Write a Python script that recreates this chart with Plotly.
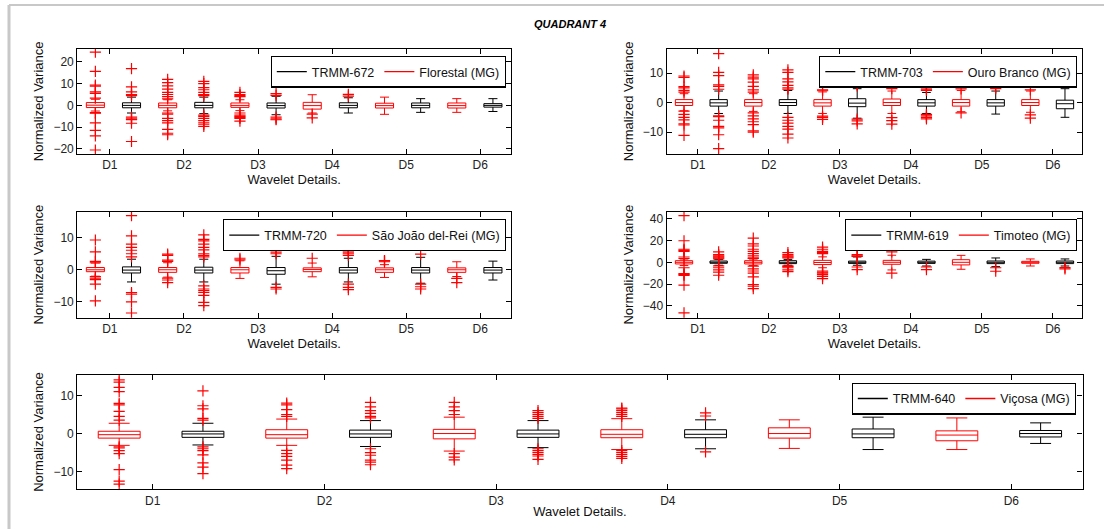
import plotly.graph_objects as go

details = ["D1", "D2", "D3", "D4", "D5", "D6"]

# Each stats row: [lower whisker, Q1, median, Q3, upper whisker] for D1..D6
# ---- Panel 1: TRMM-672 / Florestal (MG)
florestal_stats = [[-2.6, -1.0, 0.1, 1.3, 2.8], [-2.5, -1.1, 0.0, 1.1, 2.6], [-2.4, -0.9, 0.0, 1.1, 2.6],
                   [-3.5, -1.7, -0.1, 1.4, 4.9], [-4.1, -1.2, -0.1, 1.0, 3.8], [-3.2, -1.2, -0.1, 1.1, 3.1]]
florestal_out = [[24.5, 15.6, 9.3, 8.8, 6.2, 5.5, 3.3, -3.3, -3.6, -8.0, -11.5, -14.0, -20.5],
                 [12.0, 10.5, 9.0, 7.5, 6.0, 5.0, 4.0, 3.0, -3.5, -4.0, -6.0, -7.0, -8.0, -11.0, -12.8, -13.5],
                 [6.0, 5.0, 4.5, 4.0, -3.5, -4.5, -5.0, -5.5, -6.0, -7.2],
                 [-4.0, -5.7], [], []]
trmm672_stats = [[-3.5, -1.1, 0.0, 1.2, 3.8], [-3.8, -1.1, 0.0, 1.4, 3.8], [-4.3, -1.2, -0.1, 1.1, 4.2],
                 [-3.5, -1.1, 0.0, 1.2, 3.5], [-3.2, -1.1, 0.0, 1.1, 3.1], [-2.8, -0.8, 0.0, 0.8, 3.1]]
trmm672_out = [[16.9, 8.5, 6.2, 5.0, 4.5, -5.4, -6.2, -6.5, -8.2, -16.6],
               [11.0, 10.0, 8.2, 7.2, 6.0, 5.0, 4.5, -4.5, -5.0, -6.0, -7.0, -8.0, -8.9, -9.7],
               [5.4, 4.6, -5.4, -6.2, -6.6], [4.3, 5.1], [], []]

# ---- Panel 2: TRMM-703 / Ouro Branco (MG)
ouro_stats = [[-2.8, -1.0, 0.0, 1.0, 3.0], [-3.0, -1.2, 0.0, 1.0, 3.0], [-3.7, -1.2, -0.1, 1.0, 3.6],
              [-3.7, -1.0, 0.0, 1.2, 3.9], [-3.1, -1.2, 0.0, 1.0, 4.1], [-3.3, -1.0, 0.0, 1.0, 3.9]]
ouro_out = [[9.0, 8.5, 5.4, 5.0, 4.1, 3.5, -2.9, -4.0, -5.0, -5.9, -7.2, -7.6, -11.1],
            [9.4, 8.6, 8.0, 6.9, 5.5, 4.3, 3.5, -3.5, -4.5, -5.5, -6.5, -7.5, -9.6, -10.0],
            [4.3, 4.0, -4.6, -5.0, -5.7],
            [4.7, -5.1, -6.1, -7.3],
            [4.6, -3.5],
            [4.3, -4.2, -5.3]]
trmm703_stats = [[-3.7, -1.2, -0.1, 1.0, 3.9], [-3.7, -1.0, 0.0, 1.0, 4.1], [-5.3, -1.4, -0.2, 1.3, 4.7],
                 [-3.7, -1.2, -0.1, 1.0, 3.4], [-3.9, -1.2, -0.1, 1.0, 3.9], [-5.0, -2.1, -0.4, 0.8, 4.7]]
trmm703_out = [[16.6, 10.2, 9.1, 6.0, 5.5, 4.5, -4.5, -4.8, -6.0, -8.1, -8.6, -10.9, -15.6],
               [11.1, 10.2, 8.0, 7.0, 5.8, 5.0, 4.5, -5.0, -6.0, -7.0, -8.1, -9.0, -10.7, -12.0],
               [7.2, 6.3, 5.6, -5.6, -6.2, -7.2],
               [4.1, 4.5, 5.0, 5.4, -4.0, -4.5, -5.0, -5.5],
               [4.7, 5.2], []]

# ---- Panel 3: TRMM-720 / São João del-Rei (MG)
sjdr_stats = [[-2.0, -0.6, 0.0, 0.7, 2.1], [-2.3, -0.8, 0.0, 0.7, 2.2], [-2.7, -1.0, 0.0, 0.7, 2.8],
              [-2.2, -0.6, 0.1, 0.6, 2.1], [-2.4, -0.8, 0.0, 0.6, 1.6], [-2.1, -0.8, 0.0, 0.6, 2.5]]
sjdr_out = [[9.3, 5.6, 2.6, 2.2, -2.1, -2.6, -3.1, -4.5, -9.7],
            [4.9, 4.5, 3.0, 2.6, -2.6, -3.2, -4.0],
            [3.6, 3.1], [3.6],
            [2.8, 2.5, 2.9],
            [-2.7, -4.0]]
trmm720_stats = [[-3.8, -1.0, -0.1, 0.9, 3.3], [-3.8, -1.0, -0.1, 0.8, 3.3], [-4.5, -1.4, -0.3, 0.7, 4.2],
                 [-3.8, -1.0, -0.1, 0.7, 3.6], [-4.2, -1.0, -0.1, 0.7, 3.9], [-3.2, -1.0, -0.1, 0.7, 2.7]]
trmm720_out = [[16.9, 10.6, 8.0, 7.0, 6.1, 5.0, 4.0, -7.1, -7.6, -10.0, -13.5],
               [10.9, 9.5, 9.0, 8.0, 7.0, 6.2, 5.0, 4.5, 4.0, -5.0, -6.0, -6.5, -7.1, -8.0, -10.2, -11.2],
               [6.1, 5.5, 5.0, -5.5, -6.0],
               [6.5, 6.0, 5.5, 5.0, 4.5, -4.5, -5.5, -6.2],
               [4.9, -4.5, -5.3, -6.0], []]

# ---- Panel 4: TRMM-619 / Timoteo (MG)
timoteo_stats = [[-3.0, -1.5, 0.0, 1.5, 3.0], [-3.0, -1.5, 0.0, 1.5, 3.0], [-5.0, -2.1, -0.2, 1.8, 5.0],
                 [-7.0, -1.8, 0.0, 1.8, 6.5], [-6.4, -2.4, 0.0, 2.4, 6.4], [-3.4, -0.9, 0.0, 0.9, 3.1]]
timoteo_out = [[43.0, 19.8, 12.0, 11.0, 10.0, 4.9, 3.5, -5.0, -10.4, -11.0, -12.0, -21.0, -46.4],
               [22.3, 17.0, 15.0, 12.0, 10.0, 8.0, 6.0, 4.0, 3.5, -3.5, -6.0, -8.0, -10.0, -13.4, -20.5, -22.0, -24.1],
               [14.0, 12.0, 10.0, 9.0, 8.0, -8.0, -9.0, -10.0, -11.3, -13.0, -15.0],
               [9.5, -10.0], [], []]
trmm619_stats = [[-2.7, -0.9, 0.0, 1.2, 2.7], [-2.7, -1.2, 0.0, 1.5, 2.7], [-2.7, -1.0, 0.0, 1.1, 4.9],
                 [-3.4, -1.0, 0.0, 1.1, 2.7], [-4.0, -1.2, 0.0, 1.2, 4.0], [-3.4, -1.2, 0.0, 1.2, 3.1]]
trmm619_out = [[9.5, 7.0, 6.0, 5.0, 4.0, 3.2, -3.2, -5.0, -7.0, -9.0, -11.9],
               [8.9, 7.0, 6.0, 5.0, 4.0, -3.2, -4.0, -5.0, -7.0, -8.5],
               [7.0, 6.0, 5.5, -4.3, -6.7],
               [-4.3, -6.7], [-5.0, -8.2], [-4.9, -6.0]]

# ---- Panel 5: TRMM-640 / Viçosa (MG)
vicosa_stats = [[-3.1, -1.2, -0.3, 0.6, 2.7], [-3.1, -1.2, -0.3, 1.0, 3.8], [-4.6, -1.4, 0.0, 1.1, 4.3],
                [-4.2, -1.1, -0.2, 1.0, 3.9], [-3.9, -1.2, 0.0, 1.5, 3.6], [-4.2, -1.9, -0.4, 0.7, 4.1]]
vicosa_out = [[14.1, 13.5, 12.1, 11.0, 7.9, 7.5, 5.8, 4.5, 3.5, -3.5, -3.8, -4.5, -5.3, -9.5, -12.5, -13.3],
              [8.0, 7.5, 6.3, 5.0, 4.5, -4.4, -5.3, -6.0, -7.0, -8.3, -9.2],
              [8.2, 7.0, 6.0, 5.0, -5.3, -6.2, -6.9],
              [6.7, 6.5, 6.0, 5.5, 5.0, 4.5, -4.5, -5.0, -5.5, -6.0, -6.5],
              [], []]
trmm640_stats = [[-3.0, -1.0, -0.1, 0.6, 2.7], [-3.4, -1.0, -0.1, 0.9, 3.4], [-3.7, -1.0, -0.1, 0.9, 3.4],
                 [-4.0, -1.1, -0.2, 1.0, 3.6], [-4.2, -1.1, -0.1, 1.2, 4.3], [-2.6, -0.9, 0.0, 0.8, 2.8]]
trmm640_out = [[11.2, 7.3, 6.5, 4.0, 3.5, -3.5, -4.0, -4.5, -5.6, -7.7, -8.8, -10.5],
               [8.2, 7.0, 6.0, 5.3, 4.5, 4.1, -4.0, -5.0, -5.7, -7.0, -7.5, -8.2],
               [6.0, 5.5, 5.0, 4.5, 4.0, -4.0, -4.5, -5.0, -5.5, -5.9, -6.8],
               [4.6, 5.4, -4.8], [], []]

panels = [
    ("TRMM-672", "Florestal (MG)", trmm672_stats, trmm672_out, florestal_stats, florestal_out,
     [-22.3, 26.0], [-20, -10, 0, 10, 20]),
    ("TRMM-703", "Ouro Branco (MG)", trmm703_stats, trmm703_out, ouro_stats, ouro_out,
     [-17.4, 18.2], [-10, 0, 10]),
    ("TRMM-720", "São João del-Rei (MG)", trmm720_stats, trmm720_out, sjdr_stats, sjdr_out,
     [-15.0, 18.2], [-10, 0, 10]),
    ("TRMM-619", "Timoteo (MG)", trmm619_stats, trmm619_out, timoteo_stats, timoteo_out,
     [-51.0, 46.7], [-40, -20, 0, 20, 40]),
    ("TRMM-640", "Viçosa (MG)", trmm640_stats, trmm640_out, vicosa_stats, vicosa_out,
     [-14.6, 15.4], [-10, 0, 10]),
]

W, H = 1104, 531
# pixel boxes of the axes: (left, right, top, bottom)
boxes = [(77.3, 511, 49, 154.5), (666.7, 1082.3, 49, 154.5),
         (77.3, 511, 212.3, 319), (666.7, 1082.3, 212.3, 319),
         (77.3, 1082.5, 376.3, 491)]
# legend pixel anchors: (right, top)
leg_pos = [(506.5, 56), (1077, 56), (506, 220), (1077, 220), (1076.5, 384)]

FONT = "Liberation Sans, Arial, Helvetica, sans-serif"
fig = go.Figure()

red_pos = [2 * k + 1 for k in range(6)]
blk_pos = [2 * k + 2 for k in range(6)]
tickpos = [1.4 + 2.05 * k for k in range(6)]

for i, (tname, sname, tstats, tout, sstats, sout, yr, yt) in enumerate(panels):
    n = "" if i == 0 else str(i + 1)
    xa, ya = "x" + n, "y" + n
    leg = "legend" + n
    for pos, stats, color in ((red_pos, sstats, "#ff0000"), (blk_pos, tstats, "#000000")):
        fig.add_trace(go.Box(
            x=pos,
            lowerfence=[s[0] for s in stats], q1=[s[1] for s in stats], median=[s[2] for s in stats],
            q3=[s[3] for s in stats], upperfence=[s[4] for s in stats],
            width=0.5, whiskerwidth=0.5, boxpoints=False,
            line=dict(color=color, width=1), fillcolor="rgba(0,0,0,0)",
            showlegend=False, xaxis=xa, yaxis=ya, hoverinfo="skip"))
    ox, oy = [], []
    for pos, outs in ((red_pos, sout), (blk_pos, tout)):
        for p, vals in zip(pos, outs):
            ox += [p] * len(vals)
            oy += vals
    fig.add_trace(go.Scatter(
        x=ox, y=oy, mode="markers", showlegend=False, xaxis=xa, yaxis=ya, hoverinfo="skip",
        marker=dict(symbol="cross-thin", size=8, color="#ff0000", line=dict(color="#ff0000", width=1.2))))
    # legend entries
    fig.add_trace(go.Scatter(x=[None], y=[None], mode="lines", name=tname, line=dict(color="black", width=1.3),
                             xaxis=xa, yaxis=ya, legend=leg))
    fig.add_trace(go.Scatter(x=[None], y=[None], mode="lines", name=sname, line=dict(color="#ff0000", width=1.3),
                             xaxis=xa, yaxis=ya, legend=leg))

    l, r, t, b = boxes[i]
    common = dict(showline=True, linecolor="black", linewidth=1.3, mirror="allticks", ticks="inside",
                  ticklen=5, tickcolor="black", showgrid=False, zeroline=False,
                  tickfont=dict(size=12, color="#222222", family=FONT))
    fig.layout["xaxis" + n] = dict(
        common, domain=[l / W, r / W], anchor=ya, range=[0.5, 12.5],
        tickmode="array", tickvals=tickpos, ticktext=details,
        title=dict(text="Wavelet Details.", font=dict(size=13, color="#111111", family=FONT), standoff=0))
    fig.layout["yaxis" + n] = dict(
        common, domain=[1 - b / H, 1 - t / H], anchor=xa, range=yr,
        tickmode="array", tickvals=yt,
        title=dict(text="Normalized Variance", font=dict(size=13, color="#111111", family=FONT), standoff=6))
    lx, ly = leg_pos[i]
    fig.layout[leg] = dict(x=lx / W, y=1 - ly / H, xanchor="right", yanchor="top", orientation="h",
                           bgcolor="white", bordercolor="black", borderwidth=1.3,
                           font=dict(size=12.5, color="#111111", family=FONT),
                           itemwidth=30, tracegroupgap=0)

fig.add_annotation(text="<b><i>QUADRANT 4</i></b>", xref="paper", yref="paper", x=570 / W, y=1 - 16 / H,
                   showarrow=False, font=dict(size=11, color="black", family=FONT))

# light frame of the figure
fig.add_shape(type="line", xref="paper", yref="paper", x0=9 / W, x1=1, y0=1 - 5 / H, y1=1 - 5 / H,
              line=dict(color="#c8c8c8", width=2))
fig.add_shape(type="line", xref="paper", yref="paper", x0=9 / W, x1=9 / W, y0=0, y1=1 - 5 / H,
              line=dict(color="#c8c8c8", width=3))

fig.update_layout(width=W, height=H, margin=dict(l=0, r=0, t=0, b=0),
                  paper_bgcolor="white", plot_bgcolor="white", boxmode="overlay",
                  font=dict(family=FONT, size=12, color="black"))

fig.write_html("out.html", config={"displayModeBar": False},
               post_script="document.body.style.margin='0';document.body.style.overflow='hidden';")
